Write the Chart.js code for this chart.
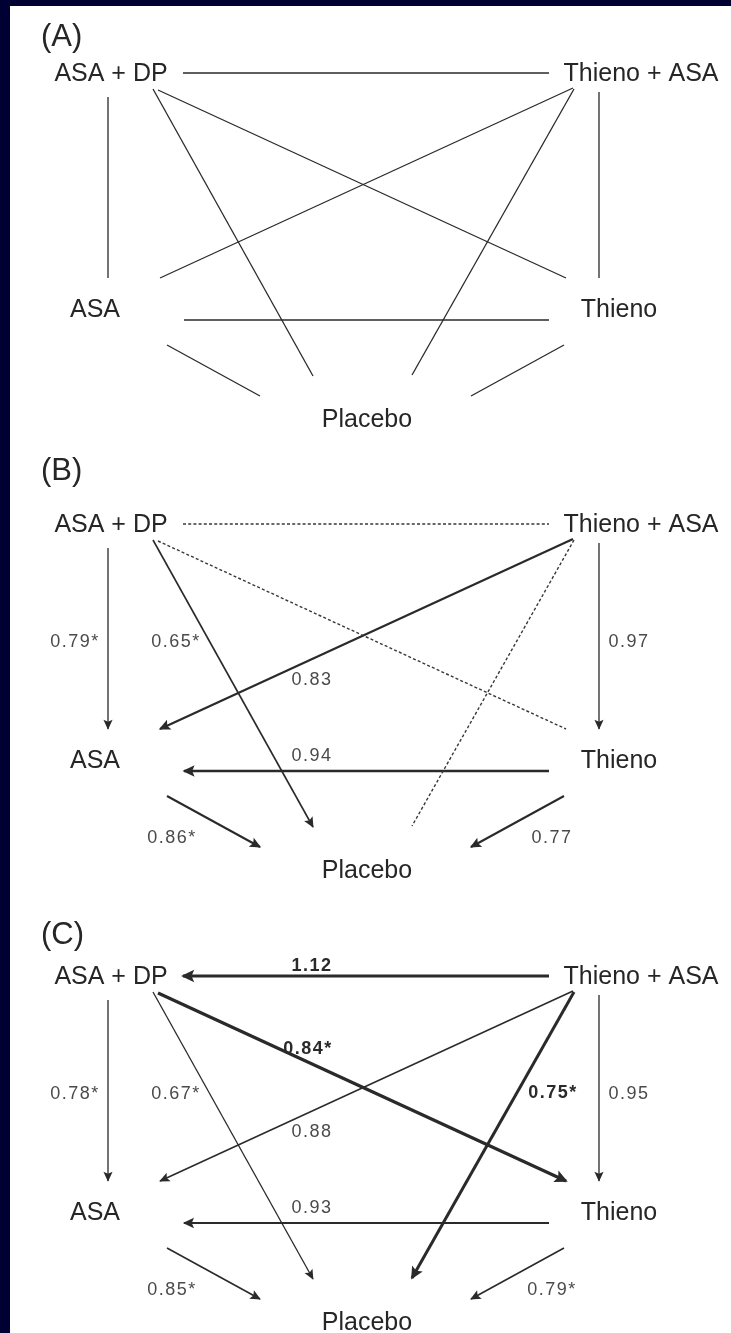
<!DOCTYPE html>
<html>
<head>
<meta charset="utf-8">
<script src="https://cdn.jsdelivr.net/npm/chart.js@4.4.1/dist/chart.umd.min.js"></script>
<style>
  html, body { margin: 0; padding: 0; background: #000032; }
  .chart-box { position: relative; width: 731px; height: 1333px; }
</style>
</head>
<body>
<div class="chart-box"><canvas id="networkChart"></canvas></div>
<script>
// DATA
const treatments = ["ASA + DP", "Thieno + ASA", "ASA", "Thieno", "Placebo"];
const panelTags = ["(A)", "(B)", "(C)"];
// comparisons (one line each)
const edgeFrom = ["ASA + DP", "ASA + DP", "ASA + DP", "ASA + DP", "Thieno + ASA", "Thieno + ASA", "Thieno + ASA", "Thieno", "ASA", "Thieno"];
const edgeTo = ["Thieno + ASA", "ASA", "Placebo", "Thieno", "ASA", "Placebo", "Thieno", "ASA", "Placebo", "Placebo"];
// (B) direct comparisons: arrow points to the comparator, null = dotted line
const headB = [null, "ASA", "Placebo", null, "ASA", null, "Thieno", "ASA", "Placebo", "Placebo"];
const oddsB = [null, 0.79, 0.65, null, 0.83, null, 0.97, 0.94, 0.86, 0.77];
const signifB = [false, true, true, false, false, false, false, false, true, false];
// (C) network estimates
const headC = ["ASA + DP", "ASA", "Placebo", "Thieno", "ASA", "Placebo", "Thieno", "ASA", "Placebo", "Placebo"];
const oddsC = [1.12, 0.78, 0.67, 0.84, 0.88, 0.75, 0.95, 0.93, 0.85, 0.79];
const signifC = [false, true, true, true, false, true, false, false, true, true];
const boldC = [true, false, false, true, false, true, false, false, false, false];

// LAYOUT (panel-local units, y down)
const panelTop = [0, 451, 903];
const tagY = [37, 20, 32];
const nodeAt = {
  "ASA + DP": [111, 72],
  "Thieno + ASA": [641, 72],
  "ASA": [95, 308],
  "Thieno": [619, 308],
  "Placebo": [367, 418]
};
const edgeEnds = [
  [[183, 73], [549, 73]],
  [[108, 97], [108, 278]],
  [[153, 89], [313, 376]],
  [[158, 90], [566, 278]],
  [[573, 88], [160, 278]],
  [[574, 89], [412, 375]],
  [[599, 92], [599, 278]],
  [[549, 320], [184, 320]],
  [[167, 345], [260, 396]],
  [[564, 345], [471, 396]]
];
const labelAt = [[312, 61], [75, 189], [176, 189], [308, 144], [312, 227], [553, 188], [629, 189], [312, 303], [172, 385], [552, 385]];
const widths = [
  [1.3, 1.3, 1.3, 1.3, 1.3, 1.3, 1.3, 1.3, 1.3, 1.3],
  [1.4, 1.3, 1.6, 1.4, 2.2, 1.4, 1.3, 2.6, 2, 2],
  [3.2, 1.3, 1.3, 3.2, 1.5, 3, 1.3, 2, 1.6, 1.6]
];
const heads = [null, headB, headC];
const odds = [null, oddsB, oddsC];
const signif = [null, signifB, signifC];

const FONT = "'Liberation Sans', Arial, Helvetica, sans-serif";
const INK = "#262626";

// build one line dataset per comparison per panel
const datasets = [];
panelTags.forEach((tag, p) => {
  edgeFrom.forEach((from, e) => {
    const head = heads[p] ? heads[p][e] : null;
    let [a, b] = edgeEnds[e];
    if (head && head === from) [a, b] = [b, a];
    const dashed = p === 1 && head === null;
    datasets.push({
      data: [{ x: a[0], y: a[1] + panelTop[p] }, { x: b[0], y: b[1] + panelTop[p] }],
      showLine: true,
      borderColor: dashed ? "#383838" : "#2a2a2a",
      borderWidth: widths[p][e],
      borderDash: dashed ? [3, 2.2] : [],
      pointRadius: 0,
      arrow: !!head
    });
  });
});

const networkPlugin = {
  id: "network",
  beforeDraw(chart) {
    const { ctx, scales } = chart;
    const x = v => scales.x.getPixelForValue(v);
    const y = v => scales.y.getPixelForValue(v);
    ctx.save();
    ctx.fillStyle = "#000032";
    ctx.fillRect(0, 0, chart.width, chart.height);
    ctx.fillStyle = "#ffffff";
    ctx.fillRect(x(10), y(6), x(731) - x(10), y(1333) - y(6));
    ctx.restore();
  },
  afterDatasetsDraw(chart) {
    const { ctx, scales } = chart;
    const x = v => scales.x.getPixelForValue(v);
    const y = v => scales.y.getPixelForValue(v);
    ctx.save();

    // arrow heads
    chart.data.datasets.forEach((ds, i) => {
      if (!ds.arrow) return;
      const pts = chart.getDatasetMeta(i).data;
      const p1 = pts[0], p2 = pts[1];
      const ang = Math.atan2(p2.y - p1.y, p2.x - p1.x);
      const w = ds.borderWidth;
      const len = 8 + w * 1.6, half = 3.4 + w * 0.9;
      const tx = p2.x + Math.cos(ang) * w * 0.6, ty = p2.y + Math.sin(ang) * w * 0.6;
      ctx.fillStyle = ds.borderColor;
      ctx.beginPath();
      ctx.moveTo(tx, ty);
      ctx.lineTo(tx - len * Math.cos(ang) + half * Math.sin(ang), ty - len * Math.sin(ang) - half * Math.cos(ang));
      ctx.lineTo(tx - len * 0.8 * Math.cos(ang), ty - len * 0.8 * Math.sin(ang));
      ctx.lineTo(tx - len * Math.cos(ang) - half * Math.sin(ang), ty - len * Math.sin(ang) + half * Math.cos(ang));
      ctx.closePath();
      ctx.fill();
    });

    panelTags.forEach((tag, p) => {
      const off = panelTop[p];
      // panel tag
      ctx.fillStyle = INK;
      ctx.font = "31px " + FONT;
      ctx.textAlign = "left";
      ctx.textBaseline = "middle";
      ctx.fillText(tag, x(41), y(tagY[p] + off));

      // treatment names
      ctx.font = "25px " + FONT;
      ctx.textAlign = "center";
      ctx.textBaseline = "alphabetic";
      treatments.forEach(t => {
        const [nx, ny] = nodeAt[t];
        ctx.fillText(t, x(nx), y(ny + off) + 9);
      });

      // odds ratios
      if (!odds[p]) return;
      ctx.letterSpacing = "1.5px";
      odds[p].forEach((v, e) => {
        if (v === null) return;
        const bold = p === 2 && boldC[e];
        ctx.font = (bold ? "bold " : "") + "18px " + FONT;
        ctx.fillStyle = bold ? "#2a2a2a" : "#4a4a4a";
        const txt = v.toFixed(2) + (signif[p][e] ? "*" : "");
        const [lx, ly] = labelAt[e];
        ctx.fillText(txt, x(lx), y(ly + off) + 6.5);
      });
      ctx.letterSpacing = "0px";
    });
    ctx.restore();
  }
};

new Chart(document.getElementById("networkChart").getContext("2d"), {
  type: "scatter",
  data: { datasets: datasets },
  options: {
    responsive: true,
    maintainAspectRatio: false,
    animation: false,
    events: [],
    layout: { padding: 0 },
    elements: { line: { tension: 0 } },
    plugins: { legend: { display: false }, tooltip: { enabled: false } },
    scales: {
      x: { type: "linear", min: 0, max: 731, display: false },
      y: { type: "linear", min: 0, max: 1333, reverse: true, display: false }
    }
  },
  plugins: [networkPlugin]
});
</script>
</body>
</html>
